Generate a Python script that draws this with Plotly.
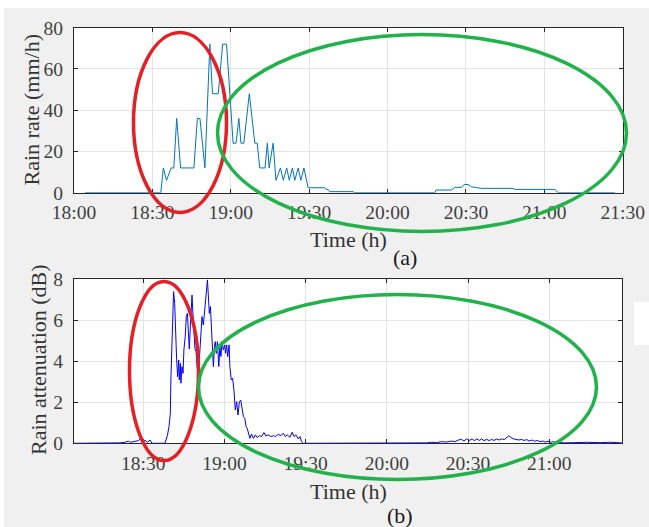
import pandas as pd
import plotly.graph_objects as go

# ---- data: minutes after 18:00 ----
rate_min = [4.2, 33.2, 34.2, 35.4, 37.2, 38.2, 39.3, 40.8, 45.9, 47.2, 48.2, 50.1,
            52.0, 53.0, 55.2, 56.9, 58.4, 60.9, 62.0, 63.1, 63.9, 65.0, 67.1, 69.2,
            70.1, 71.1, 73.1, 74.0, 74.7, 76.2, 77.3, 79.0, 80.1, 81.4, 82.4, 83.6,
            84.5, 85.8, 86.8, 88.0, 89.6, 96.0, 96.5, 97.2, 97.8, 106.8, 107.3,
            138.1, 138.6, 144.5, 145.7, 148.3, 149.3, 150.8, 152.1, 155.9, 168.0,
            168.6, 184.0, 185.3, 207.0]
rate_val = [0, 0, 12, 6, 12, 12, 36, 12, 12, 36, 36, 12,
            72, 48, 48, 72, 72, 24, 24, 36, 24, 24, 48, 24,
            24, 12, 12, 24, 12, 24, 6, 12, 6, 12, 6, 12,
            6, 12, 6, 12, 2.4, 2.4, 1.6, 1.6, 0.5, 0.5, 0,
            0, 1.3, 1.3, 2.6, 2.6, 4.0, 4.0, 2.9, 2.1, 2.1,
            1.6, 1.6, 0, 0]

att_min = [4.4, 21.0, 21.4, 23.2, 24.5, 25.3, 26.9, 28.2, 29.0, 29.8, 30.6, 31.5,
           32.5, 33.2, 38.0, 38.9, 39.5, 40.0, 40.2, 40.5, 40.9, 41.2, 41.6, 42.0,
           42.3, 42.7, 43.1, 43.3, 43.7, 43.9, 44.3, 44.7, 45.0, 45.5, 45.9, 46.3,
           46.6, 47.0, 47.4, 47.8, 48.0, 48.4, 48.7, 49.1, 49.5, 50.0, 50.7, 51.2,
           51.7, 52.2, 52.7, 53.2, 53.7, 54.0, 54.4, 54.8, 55.1, 55.5, 55.9, 56.3,
           56.6, 57.0, 57.4, 57.9, 58.3, 58.7, 59.1, 59.6, 60.1, 60.4, 60.8, 61.2,
           61.7, 62.0, 62.5, 63.0, 63.5, 64.0, 64.5, 65.0, 65.5, 66.0, 66.5, 67.0,
           67.5, 68.0, 68.4, 68.9, 69.4, 70.0, 70.7, 71.4, 72.1, 72.9, 73.7, 74.6,
           75.3, 76.2, 77.1, 78.1, 78.9, 79.9, 80.8, 81.7, 82.5, 83.2, 84.2, 85.0,
           85.7, 86.4, 87.3, 87.9, 88.5, 89.1, 134.0, 134.7, 136.6, 138.4, 140.2,
           142.1, 143.9, 145.2, 146.4, 147.6, 148.5, 149.5, 150.5, 151.5, 152.3,
           153.2, 154.2, 155.0, 155.9, 156.9, 157.9, 158.7, 159.6, 160.6, 161.6,
           162.5, 163.4, 164.3, 165.1, 165.9, 166.7, 167.7, 168.7, 169.7, 170.7,
           171.7, 172.6, 173.6, 174.6, 175.6, 176.6, 177.6, 178.6, 179.5, 180.5,
           181.5, 182.7, 184.0, 185.2, 188.9, 193.8, 198.8, 202.4, 206.8]
att_val = [0, 0, 0.02, 0.05, 0.10, 0.05, 0.10, 0.13, 0.23, 0.08, 0.15, 0.05,
           0.16, 0.0, 0.0, 0.37, 0.81, 1.46, 3.09, 4.60, 6.00, 7.40, 6.83, 4.96,
           4.15, 3.25, 4.06, 3.09, 3.90, 2.93, 3.74, 3.41, 4.55, 5.20, 6.18, 6.34,
           5.60, 4.60, 5.69, 6.67, 7.23, 6.18, 5.36, 4.60, 4.47, 3.58, 4.06, 5.04,
           6.18, 5.77, 6.50, 7.15, 7.97, 7.32, 6.34, 6.67, 5.69, 4.88, 3.74, 4.72,
           4.96, 4.39, 4.96, 3.74, 4.72, 4.23, 4.96, 4.55, 4.80, 4.39, 4.80, 4.23,
           4.80, 3.74, 3.09, 3.17, 2.60, 1.63, 2.03, 1.38, 2.03, 2.11, 1.63, 1.30,
           1.22, 0.81, 0.73, 0.41, 0.24, 0.45, 0.24, 0.41, 0.28, 0.37, 0.33, 0.52,
           0.36, 0.41, 0.33, 0.37, 0.33, 0.44, 0.37, 0.49, 0.33, 0.41, 0.29, 0.54,
           0.33, 0.41, 0.21, 0.33, 0.08, 0.0, 0.0, 0.02, 0.05, 0.03, 0.08,
           0.06, 0.11, 0.08, 0.16, 0.19, 0.11, 0.22, 0.14, 0.21, 0.13,
           0.21, 0.14, 0.22, 0.13, 0.19, 0.13, 0.19, 0.14, 0.21, 0.16,
           0.22, 0.18, 0.29, 0.37, 0.28, 0.22, 0.19, 0.16, 0.19, 0.14,
           0.18, 0.11, 0.16, 0.10, 0.14, 0.08, 0.11, 0.06, 0.10, 0.05,
           0.08, 0.03, 0.06, 0.02, 0.03, 0.05, 0.03, 0.05, 0.02]

rate_yticks = [0, 20, 40, 60, 80]
att_yticks = [0, 2, 4, 6, 8]

base = pd.Timestamp("2020-01-01 18:00")
def to_time(mins):
    return [base + pd.Timedelta(minutes=m) for m in mins]

W, H = 649, 527
def px(x):
    return x / W
def py(y):
    return 1 - y / H

FONT = "Liberation Serif"
AX = "#262626"
GRID = "#e3e3e3"

fig = go.Figure()
fig.add_trace(go.Scatter(x=to_time(rate_min), y=rate_val, mode="lines",
                         line=dict(color="#0072BD", width=1), xaxis="x", yaxis="y"))
fig.add_trace(go.Scatter(x=to_time(att_min), y=att_val, mode="lines",
                         line=dict(color="#0000FF", width=1), xaxis="x2", yaxis="y2"))

common_x = dict(type="date", tickformat="%H:%M", dtick=30 * 60 * 1000,
                tick0=base, showgrid=True, gridcolor=GRID, gridwidth=1,
                showline=True, linecolor=AX, linewidth=1, mirror="ticks",
                ticks="inside", ticklen=4, tickcolor=AX, zeroline=False,
                tickfont=dict(family=FONT, size=19.5, color="#404040"),
                ticklabelstandoff=2,
                layer="below traces", automargin=False)
common_y = dict(showgrid=True, gridcolor=GRID, gridwidth=1,
                showline=True, linecolor=AX, linewidth=1, mirror="ticks",
                ticks="inside", ticklen=4, tickcolor=AX, zeroline=False,
                tickfont=dict(family=FONT, size=19.5, color="#404040"),
                ticklabelstandoff=6,
                layer="below traces", automargin=False)

fig.update_layout(
    width=W, height=H, autosize=False,
    margin=dict(l=0, r=0, t=0, b=0, pad=0, autoexpand=False),
    paper_bgcolor="#f0f0f0", plot_bgcolor="white", showlegend=False,
    xaxis=dict(common_x, domain=[px(74), px(622.7)], anchor="y",
               range=[base, base + pd.Timedelta(minutes=210)]),
    yaxis=dict(common_y, domain=[py(192.7), py(27.7)], anchor="x",
               range=[0, 80], tickvals=rate_yticks),
    xaxis2=dict(common_x, domain=[px(74), px(622.3)], anchor="y2",
                range=[base + pd.Timedelta(minutes=4.4), base + pd.Timedelta(minutes=207)]),
    yaxis2=dict(common_y, domain=[py(443.3), py(279.3)], anchor="x2",
                range=[0, 8], tickvals=att_yticks),
)

# page strips and side panel
shapes = [
    dict(type="rect", xref="paper", yref="paper", x0=0, x1=1, y0=py(8), y1=1,
         fillcolor="white", line_width=0, layer="below"),
    dict(type="rect", xref="paper", yref="paper", x0=0, x1=px(4), y0=0, y1=1,
         fillcolor="white", line_width=0, layer="below"),
    dict(type="rect", xref="paper", yref="paper", x0=px(634), x1=1, y0=py(345), y1=py(302),
         fillcolor="white", line_width=0, layer="below"),
]
# highlight ellipses
RED = "#e51f26"
GREEN = "#22b24c"
for (x0, y0, x1, y1, c) in [(133.5, 32.5, 226.5, 212.5, RED),
                            (217.5, 34.5, 626.5, 231.5, GREEN),
                            (129.5, 281.5, 198.5, 460.5, RED),
                            (198.5, 294.5, 596.5, 479.5, GREEN)]:
    shapes.append(dict(type="circle", xref="paper", yref="paper",
                       x0=px(x0), x1=px(x1), y0=py(y1), y1=py(y0),
                       line=dict(color=c, width=3.5), layer="above"))
fig.update_layout(shapes=shapes)

def label(text, x, y, size=22, angle=0, color="#333333"):
    fig.add_annotation(text=text, x=px(x), y=py(y), xref="paper", yref="paper",
                       showarrow=False, xanchor="center", yanchor="middle",
                       textangle=angle, font=dict(family=FONT, size=size, color=color))

label("Rain rate (mm/h)", 30.5, 110, angle=-90)
label("Time (h)", 348, 240)
label("(a)", 405, 258, color="#1a1a1a")
label("Rain attenuation (dB)", 38, 360, angle=-90)
label("Time (h)", 348, 491)
label("(b)", 400, 515, color="#1a1a1a")

fig.write_html("out.html")
